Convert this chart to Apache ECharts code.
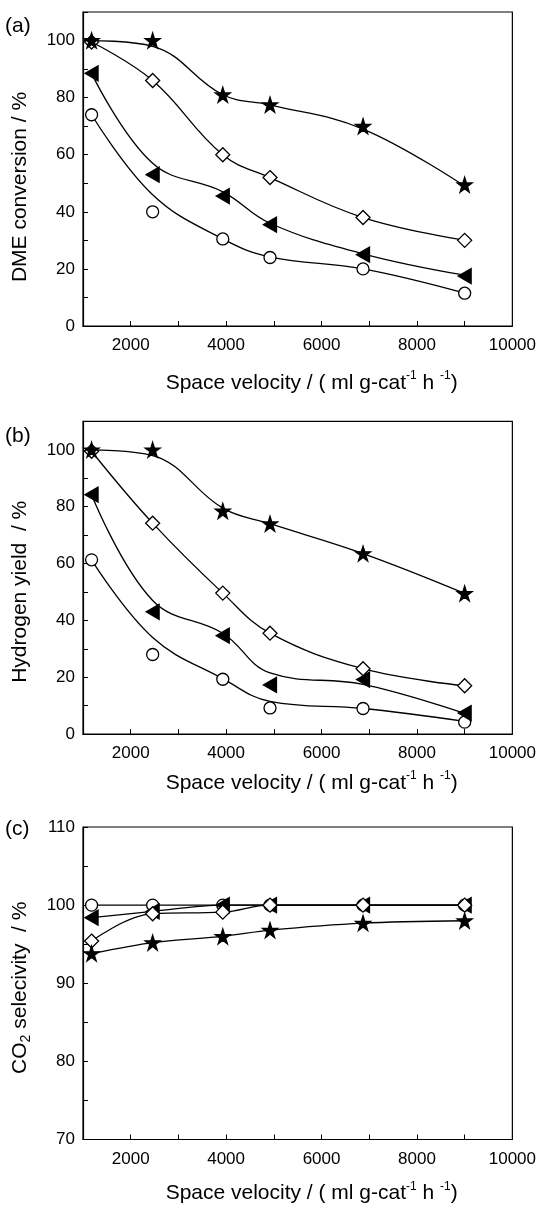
<!DOCTYPE html>
<html>
<head>
<meta charset="utf-8">
<script src="https://cdn.jsdelivr.net/npm/echarts@6/dist/echarts.min.js"></script>
<style>
html,body{margin:0;padding:0;background:#fff;}
#chart{width:539px;height:1205px;}
</style>
</head>
<body>
<div id="chart"></div>
<script>
// ---- data ----
const spaceVelocity = [1180, 2460, 3930, 4920, 6870, 9000];
const xTicks = ['2000', '4000', '6000', '8000', '10000'];

// (a) DME conversion / %
const dmeStar      = [100, 100, 81, 77.5, 70, 49.5];
const dmeStarFit   = [100, 98, 81, 77.5, 69, 49];
const dmeDiamond   = [99.5, 86, 60, 52, 38, 30];
const dmeDiamondFit= [99.5, 86, 60, 52, 38, 30];
const dmeTri       = [88.5, 53, 45.5, 35.5, 25, 17.5];
const dmeTriFit    = [88.5, 57, 47, 36, 25.3, 17.8];
const dmeCircle    = [74, 40, 30.5, 24, 20, 11.5];
const dmeCircleFit = [74, 46, 30.5, 24.2, 20, 11.5];

// (b) Hydrogen yield / %
const h2Star       = [100, 100, 78.5, 74, 63.5, 49.5];
const h2StarFit    = [100, 98, 79.5, 74, 63.5, 49.5];
const h2Diamond    = [99.5, 74.2, 49.6, 35.5, 23, 17];
const h2DiamondFit = [99.5, 74.2, 49.6, 35.5, 23, 17];
const h2Tri        = [84.2, 43, 34.6, 17.3, 19.2, 7.4];
const h2TriFit     = [84.2, 47, 35.5, 21.5, 17.5, 7.3];
const h2Circle     = [61.3, 28, 19.3, 9.2, 9, 4.2];
const h2CircleFit  = [61.3, 34, 19.5, 11.5, 9, 4.5];

// (c) CO2 selectivity / %
const co2Star    = [93.8, 95.2, 96, 96.8, 97.7, 98];
const co2Diamond = [95.4, 98.9, 99.1, 100, 100, 100];
const co2Tri     = [98.4, 99.2, 100, 100, 100, 100];
const co2Circle  = [100, 100, 100, 100, 100, 100];

// ---- styling ----
const FONT = '"Liberation Sans", Arial, Helvetica, sans-serif';
const STAR = 'path://M50,0 L61.2,34.5 L97.6,34.5 L68.2,55.9 L79.4,90.5 L50,69.1 L20.6,90.5 L31.8,55.9 L2.4,34.5 L38.8,34.5 Z';
const LTRI = 'path://M0,50 L100,0 L100,100 Z';

const markers = {
  star:    {symbol: STAR, size: 15, fill: '#000'},
  tri:     {symbol: LTRI, size: [13, 15], fill: '#000'},
  diamond: {symbol: 'diamond', size: 14, fill: '#fff'},
  circle:  {symbol: 'circle', size: 12, fill: '#fff'}
};

const pts = v => spaceVelocity.map((x, i) => [x, v[i]]);

function curve(idx, vals, smooth) {
  return {
    type: 'line', xAxisIndex: idx, yAxisIndex: idx, data: pts(vals),
    smooth: smooth, symbol: 'none', silent: true, z: 2,
    lineStyle: {color: '#000', width: 1.3}
  };
}
function marks(idx, vals, kind, z) {
  const m = markers[kind];
  return {
    type: 'scatter', xAxisIndex: idx, yAxisIndex: idx, data: pts(vals),
    symbol: m.symbol, symbolSize: m.size, z: z, silent: true,
    itemStyle: {color: m.fill, borderColor: '#000', borderWidth: 1.3, opacity: 1}
  };
}

const gridTops = [12, 421.4, 827];
const gridHeights = [314, 312.7, 316.3];
const grids = gridTops.map((t, i) => ({
  left: 83, width: 432, top: t, height: gridHeights[i],
  show: true, borderColor: '#000', borderWidth: 1.2, backgroundColor: 'transparent'
}));

const xNameGap = [44, 36, 41];
const xAxes = [0, 1, 2].map(i => ({
  type: 'value', gridIndex: i, min: 1000, max: 10000, interval: 1000,
  axisLine: {show: true, onZero: false, lineStyle: {color: '#000', width: 1.2}},
  axisTick: {show: true, inside: true, length: 5, lineStyle: {color: '#000', width: 1}},
  splitLine: {show: false},
  axisLabel: {
    margin: 11, color: '#000', fontSize: 17, fontFamily: FONT,
    formatter: v => (xTicks.indexOf(String(v)) >= 0 ? String(v) : '')
  },
  name: '{a|Space velocity / ( ml g-cat}{s|-1}{a| h }{s|-1}{a|)}',
  nameLocation: 'middle', nameGap: xNameGap[i],
  nameTextStyle: {
    padding: [0, 0, 0, 28],
    rich: {
      a: {fontSize: 21, lineHeight: 26, color: '#000', fontFamily: FONT},
      s: {fontSize: 12, lineHeight: 14, color: '#000', fontFamily: FONT, verticalAlign: 'top'}
    }
  }
}));

const yRich = {
  a: {fontSize: 21, lineHeight: 26, color: '#000', fontFamily: FONT},
  b: {fontSize: 14, lineHeight: 14, color: '#000', fontFamily: FONT, verticalAlign: 'bottom'}
};
function yAxis(i, min, max, interval, labelStep, name, shift) {
  return {
    type: 'value', gridIndex: i, min: min, max: max, interval: interval,
    axisLine: {show: true, onZero: false, lineStyle: {color: '#000', width: 1.2}},
    axisTick: {show: true, inside: true, length: 5, lineStyle: {color: '#000', width: 1}},
    splitLine: {show: false},
    axisLabel: {
      margin: 8, color: '#000', fontSize: 17, fontFamily: FONT,
      formatter: v => (v % labelStep === 0 && (i === 2 || v <= 100) ? String(v) : '')
    },
    name: name, nameLocation: 'middle', nameGap: 50,
    nameTextStyle: {padding: [0, shift, 0, 0], rich: yRich}
  };
}

const option = {
  animation: false,
  backgroundColor: '#fff',
  title: [
    {text: '(a)', left: 5, top: 16},
    {text: '(b)', left: 5, top: 426},
    {text: '(c)', left: 5, top: 819}
  ].map(t => Object.assign(t, {padding: 0, textStyle: {fontSize: 21, fontWeight: 'normal', color: '#000', fontFamily: FONT}})),
  grid: grids,
  xAxis: xAxes,
  yAxis: [
    yAxis(0, 0, 110, 10, 20, '{a|DME conversion / %}', 36),
    yAxis(1, 0, 110, 10, 20, '{a|Hydrogen yield  / %}', 28),
    yAxis(2, 70, 110, 5, 10, '{a|CO}{b|2}{a| selecivity  / %}', 9)
  ],
  series: [
    curve(0, dmeStarFit, 0.4), curve(0, dmeDiamondFit, 0.4), curve(0, dmeTriFit, 0.4), curve(0, dmeCircleFit, 0.4),
    marks(0, dmeCircle, 'circle', 3), marks(0, dmeTri, 'tri', 4), marks(0, dmeDiamond, 'diamond', 5), marks(0, dmeStar, 'star', 6),

    curve(1, h2StarFit, 0.4), curve(1, h2DiamondFit, 0.4), curve(1, h2TriFit, 0.4), curve(1, h2CircleFit, 0.4),
    marks(1, h2Circle, 'circle', 3), marks(1, h2Tri, 'tri', 4), marks(1, h2Diamond, 'diamond', 5), marks(1, h2Star, 'star', 6),

    curve(2, co2Star, 0.3), curve(2, co2Diamond, 0.4), curve(2, co2Tri, 0.3), curve(2, co2Circle, 0),
    marks(2, co2Circle, 'circle', 3), marks(2, co2Tri, 'tri', 4), marks(2, co2Diamond, 'diamond', 5), marks(2, co2Star, 'star', 6)
  ]
};

const chart = echarts.init(document.getElementById('chart'), null, {renderer: 'canvas'});
chart.setOption(option);
</script>
</body>
</html>
